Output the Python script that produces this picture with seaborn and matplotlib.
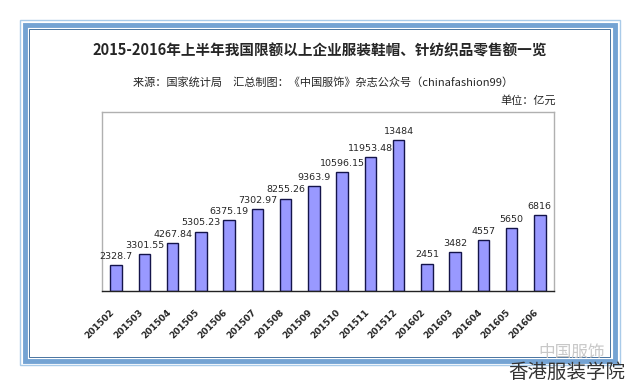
import matplotlib
matplotlib.use("Agg")
import matplotlib.pyplot as plt
from matplotlib.patches import Rectangle
from matplotlib.transforms import ScaledTranslation
import seaborn as sns
import numpy as np

months = ["201502", "201503", "201504", "201505", "201506", "201507", "201508", "201509",
          "201510", "201511", "201512", "201602", "201603", "201604", "201605", "201606"]
sales = [2328.7, 3301.55, 4267.84, 5305.23, 6375.19, 7302.97, 8255.26, 9363.9,
         10596.15, 11953.48, 13484, 2451, 3482, 4557, 5650, 6816]
sales_labels = ["2328.7", "3301.55", "4267.84", "5305.23", "6375.19", "7302.97", "8255.26", "9363.9",
                "10596.15", "11953.48", "13484", "2451", "3482", "4557", "5650", "6816"]

sns.set_style("white")
plt.rcParams['font.family'] = ['Noto Sans CJK SC', 'DejaVu Sans']

fig = plt.figure(figsize=(6.4, 3.86), dpi=100)
W, H = 640, 386

def fr(x0, y0, x1, y1, **kw):
    # rectangle given in pixel coords (top-left origin)
    fig.patches.append(Rectangle((x0 / W, 1 - y1 / H), (x1 - x0) / W, (y1 - y0) / H,
                                 transform=fig.transFigure, figure=fig, fill=False, **kw))

# blue double frame
fr(20, 20, 620, 365, edgecolor="#a9cbe9", linewidth=1.0)
fr(25, 25, 615, 361, edgecolor="#74a3d3", linewidth=3.5)
fr(29, 29, 610, 357, edgecolor="#4a74a0", linewidth=0.7)

ax = fig.add_axes([102 / W, 1 - 291 / H, 452 / W, 179 / H])
sns.barplot(x=months, y=sales, color="#9999ff", edgecolor="#14144a", linewidth=1.0,
            width=0.4, saturation=1, ax=ax)
ax.set_ylim(0, 16000)
ax.set_xlim(-0.5, len(months) - 0.5)
ax.set_yticks([])
ax.bar_label(ax.containers[0], labels=sales_labels, padding=3, fontsize=6.8,
             family=['DejaVu Sans'])

ax.set_xticks(np.arange(-0.5, len(months), 1), minor=True)
ax.tick_params(axis="x", which="major", length=0, pad=12)
ax.tick_params(axis="x", which="minor", length=3, width=0.8, color="#333333", direction="out")
ax.set_xticklabels(months, rotation=45, ha="right", rotation_mode="anchor",
                   fontsize=6.5, fontweight="bold", family=['DejaVu Sans'])
shift = ScaledTranslation(-6 / 100, 0, fig.dpi_scale_trans)
for lab in ax.get_xticklabels():
    lab.set_transform(lab.get_transform() + shift)
for side in ["left", "top", "right"]:
    ax.spines[side].set_color("#b0b0b0")
    ax.spines[side].set_linewidth(1.0)
ax.spines["bottom"].set_color("#222222")
ax.spines["bottom"].set_linewidth(1.0)

fig.text(320 / W, 1 - 50 / H, "2015-2016年上半年我国限额以上企业服装鞋帽、针纺织品零售额一览",
         ha="center", va="center", fontsize=10.5, fontweight="bold")
fig.text(323 / W, 1 - 82 / H, "来源：国家统计局　汇总制图：《中国服饰》杂志公众号（chinafashion99）",
         ha="center", va="center", fontsize=8)
fig.text(556 / W, 1 - 100 / H, "单位：亿元", ha="right", va="center", fontsize=8)

# watermark
fig.text(605 / W, 1 - 352 / H, "中国服饰", ha="right", va="center", fontsize=12,
         color="#c8c8c8")
fig.text(625 / W, 1 - 372 / H, "香港服装学院", ha="right", va="center", fontsize=14,
         color="#333333")

fig.savefig("out.png", dpi=100)
